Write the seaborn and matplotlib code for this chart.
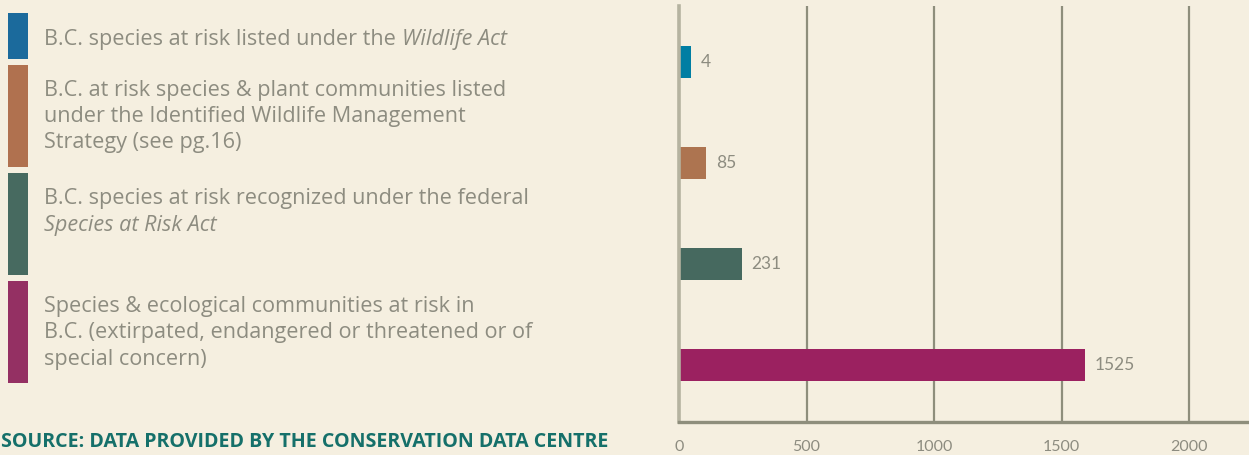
import matplotlib
matplotlib.use("Agg")
import matplotlib.pyplot as plt
from matplotlib.patches import Rectangle
import seaborn as sns
import pandas as pd

# ---- data ----
categories = ["Wildlife Act", "IWMS", "SARA", "At risk in B.C."]
bar_lengths = [47, 106, 247, 1592]          # drawn bar lengths
value_labels = ["4", "85", "231", "1525"]   # printed value labels
bar_colors = ["#007ea3", "#ad7450", "#46695f", "#9b2160"]
swatch_colors = ["#1b6a9c", "#b0714f", "#476a60", "#943063"]
x_ticks = [0, 500, 1000, 1500, 2000]
x_tick_labels = ["0", "500", "1000", "1500", "2000"]
legend_lines = [
    [[("B.C. species at risk listed under the ", "normal"), ("Wildlife Act", "italic")]],
    [[("B.C. at risk species & plant communities listed", "normal")],
     [("under the Identified Wildlife Management", "normal")],
     [("Strategy (see pg.16)", "normal")]],
    [[("B.C. species at risk recognized under the federal", "normal")],
     [("Species at Risk Act", "italic")]],
    [[("Species & ecological communities at risk in", "normal")],
     [("B.C. (extirpated, endangered or threatened or of", "normal")],
     [("special concern)", "normal")]],
]
source_text = "SOURCE: DATA PROVIDED BY THE CONSERVATION DATA CENTRE"

# ---- style ----
BG = "#f5efe0"
GRID = "#8e8e7c"
TXT = "#8d8c80"
W, H = 1249, 456
sns.set_theme(style="white")
plt.rcParams["font.family"] = ["Lato", "DejaVu Sans"]

fig = plt.figure(figsize=(W / 100, H / 100), dpi=100, facecolor=BG)
renderer = fig.canvas.get_renderer()

def fx(px):
    return px / W

def fy(py):
    return 1 - py / H

# ---- bar chart ----
x0, x_top, x_bot = 679, 7, 423
ax = fig.add_axes([fx(x0), fy(x_bot), fx(W - x0), (x_bot - x_top) / H])
ax.set_facecolor(BG)
df = pd.DataFrame({"cat": categories, "val": bar_lengths})
sns.barplot(data=df, x="val", y="cat", hue="cat", palette=bar_colors,
            order=categories, hue_order=categories, orient="h",
            width=0.317, legend=False, ax=ax, saturation=1, linewidth=0)
px_per_unit = 127.5 / 500
ax.set_xlim(0, (W - x0) / px_per_unit)
ax.set_ylim(3.564, -0.554)
ax.set_xlabel("")
ax.set_ylabel("")
ax.set_yticks([])
ax.set_xticks(x_ticks)
ax.set_xticklabels(x_tick_labels, color=TXT, fontsize=11.5)
ax.tick_params(axis="x", length=0, pad=12)
for v in x_ticks[1:]:
    ax.axvline(v, color=GRID, lw=1.6, zorder=0)
for s in ["top", "right"]:
    ax.spines[s].set_visible(False)
ax.spines["bottom"].set_color(GRID)
ax.spines["bottom"].set_linewidth(2.4)
ax.spines["left"].set_color("#b5b3a0")
ax.spines["left"].set_linewidth(2.6)

for i, (v, lab) in enumerate(zip(bar_lengths, value_labels)):
    ax.annotate(lab, (v, i), xytext=(7, 1), textcoords="offset points",
                ha="left", va="center", color=TXT, fontsize=12.5)

# ---- legend swatches and texts ----
swatch_spans = [(14, 60), (66, 168), (174, 276), (282, 384)]
for (t, b), c in zip(swatch_spans, swatch_colors):
    fig.patches.append(Rectangle((fx(8), fy(b)), fx(20), (b - t) / H,
                                 transform=fig.transFigure, color=c, lw=0))

# pick font size so that the first line spans the same width as the reference
LEG_FAMILY = ["Open Sans", "DejaVu Sans"]
probe = fig.text(0, 0, "B.C. species at risk listed under the ", fontsize=10,
                 family=LEG_FAMILY)
probe2 = fig.text(0, 0, "Wildlife Act", fontsize=10, style="italic",
                  family=LEG_FAMILY)
wprobe = probe.get_window_extent(renderer).width + probe2.get_window_extent(renderer).width
probe.remove()
probe2.remove()
leg_fs = 10 * 461 / wprobe

baselines = [[45], [96, 122, 148], [204, 231], [312, 338, 365]]
for block, bls in zip(legend_lines, baselines):
    for segs, bl in zip(block, bls):
        xpix = 44
        for txt, style in segs:
            t = fig.text(fx(xpix), fy(bl), txt, color=TXT, fontsize=leg_fs,
                         style=style, va="baseline", ha="left",
                         family=LEG_FAMILY)
            ext = t.get_window_extent(renderer)
            xpix += ext.width

st = fig.text(fx(1), fy(447), source_text, color="#15706a", fontsize=12,
              fontweight="bold", va="baseline", ha="left",
              family=["Open Sans", "DejaVu Sans"])
ext = st.get_window_extent(renderer)
st.set_fontsize(12 * 608 / ext.width)

fig.savefig("out.png", dpi=100, facecolor=BG)
